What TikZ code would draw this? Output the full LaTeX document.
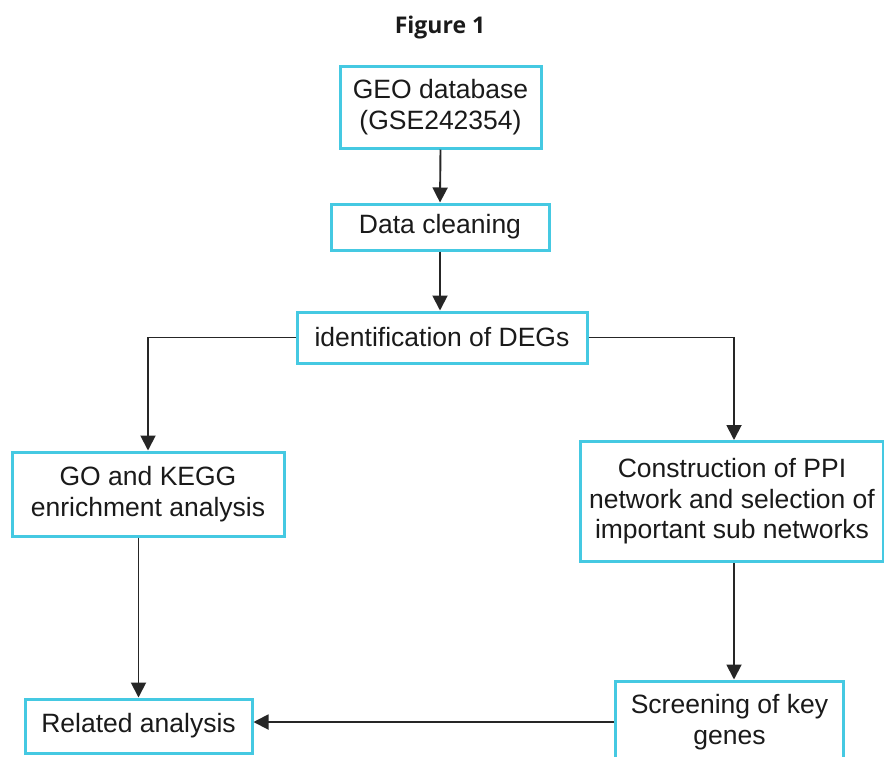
\documentclass[tikz,border=0pt]{standalone}
\usepackage{fontspec}
\setmainfont{Liberation Sans}
\newfontfamily\titlefont{Open Sans}
\usetikzlibrary{arrows.meta}
\definecolor{boxcyan}{HTML}{45C9E2}
\definecolor{inkgray}{HTML}{1A1A1A}
\definecolor{linegray}{HTML}{262626}
\begin{document}
\begin{tikzpicture}[x=1pt,y=-1pt,
  box/.style={draw=boxcyan,line width=3pt,fill=white,align=center,inner sep=0pt,
    text=inkgray,font=\fontsize{26.5}{30.5}\selectfont},
  conn/.style={draw=linegray,line width=1.9pt},
  arr/.style={conn,-{Triangle[width=15pt,length=15pt]}}]
\useasboundingbox (0,0) rectangle (884,756);
\fill[white] (0,0) rectangle (884,756);
\node[font=\titlefont\bfseries\fontsize{23}{26}\selectfont,text=inkgray] (title) at (440,28) {Figure 1};
\node[box,minimum width=201pt,minimum height=82pt] (geo) at (440.5,107) {GEO database\\(GSE242354)};
\node[box,minimum width=218pt,minimum height=46pt] (clean) at (440,227) {Data cleaning};
\node[box,minimum width=290pt,minimum height=51pt] (degs) at (442,337.5) {identification of DEGs};
\node[box,minimum width=272pt,minimum height=84pt] (go) at (148,494) {GO and KEGG\\enrichment analysis};
\node[box,minimum width=303pt,minimum height=120pt] (ppi) at (732,501.5) {Construction of PPI\\network and selection of\\important sub networks};
\node[box,minimum width=227pt,minimum height=54pt] (rel) at (138.5,726) {Related analysis};
\node[box,minimum width=228pt,minimum height=82pt] (scr) at (729.5,722) {Screening of key\\genes};
\draw[arr] (geo.south) -- (clean.north);
\draw[arr] (clean.south) -- (clean.south |- degs.north);
\draw[arr] (degs.west) -| (go.north);
\draw[arr] (degs.east) -| ([xshift=2pt]ppi.north);
\draw[arr] (go.south -| rel.north) -- (rel.north);
\draw[arr] ([xshift=2pt]ppi.south) -- ([xshift=2pt]ppi.south |- scr.north);
\draw[arr] (scr.west) -- (scr.west -| rel.east);
\end{tikzpicture}
\end{document}
